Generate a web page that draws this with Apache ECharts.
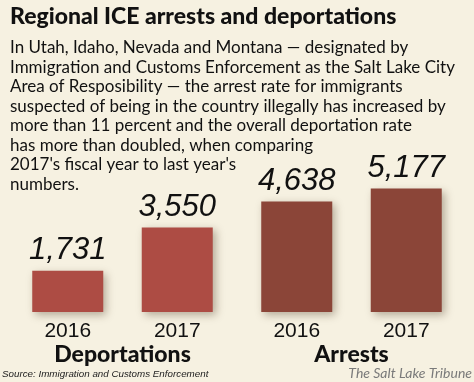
<!DOCTYPE html>
<html><head><meta charset="utf-8">
<script src="https://cdn.jsdelivr.net/npm/echarts@6/dist/echarts.min.js"></script>
<style>html,body{margin:0;padding:0;background:#f6f1e1}#c{width:474px;height:382px}</style>
</head><body><div id="c"></div>
<script>
const groups = ['Deportations', 'Arrests'];
const years = ['2016', '2017'];
const deportations = [1731, 3550];
const arrests = [4638, 5177];
const titleText = 'Regional ICE arrests and deportations';
const bodyLines = [
  'In Utah, Idaho, Nevada and Montana \u2014 designated by',
  'Immigration and Customs Enforcement as the Salt Lake City',
  'Area of Resposibility \u2014 the arrest rate for immigrants',
  'suspected of being in the country illegally has increased by',
  'more than 11 percent and the overall deportation rate',
  'has more than doubled, when comparing',
  "2017's fiscal year to last year's",
  'numbers.'
];
const sourceText = 'Source: Immigration and Customs Enforcement';
const creditText = 'The Salt Lake Tribune';

const chart = echarts.init(document.getElementById('c'));
const narrow = '"Liberation Sans", Arial, sans-serif';
const gridsDef = [{left: 13, width: 219}, {left: 242, width: 219}];
const colors = ['#ad4c44', '#8b4538'];
const dataSets = [deportations, arrests];

const option = {
  backgroundColor: '#f6f1e1',
  animation: false,
  grid: gridsDef.map(g => ({left: g.left, width: g.width, top: 169, bottom: 70, containLabel: false})),
  xAxis: gridsDef.map((g, i) => ({
    type: 'category', gridIndex: i, data: years,
    axisLine: {show: false}, axisTick: {show: false},
    axisLabel: {show: true, margin: 9, color: '#111', fontFamily: narrow, fontSize: 21},
    name: groups[i], nameLocation: 'middle', nameGap: 30,
    nameTextStyle: {fontFamily: 'Lato', fontWeight: 900, fontSize: 23, color: '#111'}
  })),
  yAxis: gridsDef.map((g, i) => ({
    type: 'value', gridIndex: i, min: 0, max: 6000, show: false
  })),
  series: dataSets.map((d, i) => ({
    type: 'bar', xAxisIndex: i, yAxisIndex: i, data: d, barWidth: 71,
    itemStyle: {color: colors[i], shadowBlur: 8, shadowColor: 'rgba(60,40,20,0.35)', shadowOffsetX: 3, shadowOffsetY: 3},
    label: {
      show: true, position: 'top', distance: 5, color: '#111',
      fontFamily: narrow, fontStyle: 'italic', fontSize: 31,
      formatter: p => p.value.toLocaleString('en-US')
    }
  })),
  graphic: [
    {type: 'text', left: 10, top: 5, style: {text: titleText, font: '900 23px Lato', fill: '#111'}},
    {type: 'text', left: 10, top: 38, style: {text: bodyLines.join('\n'), font: '17px Lato', lineHeight: 19.5, fill: '#111'}},
    {type: 'text', left: 2, top: 369, style: {text: sourceText, font: 'italic 9.8px ' + narrow, fill: '#222'}},
    {type: 'text', right: 2, top: 366, style: {text: creditText, font: 'italic 14px Lato', fill: '#7a7a7a'}}
  ]
};
chart.setOption(option);
</script></body></html>
